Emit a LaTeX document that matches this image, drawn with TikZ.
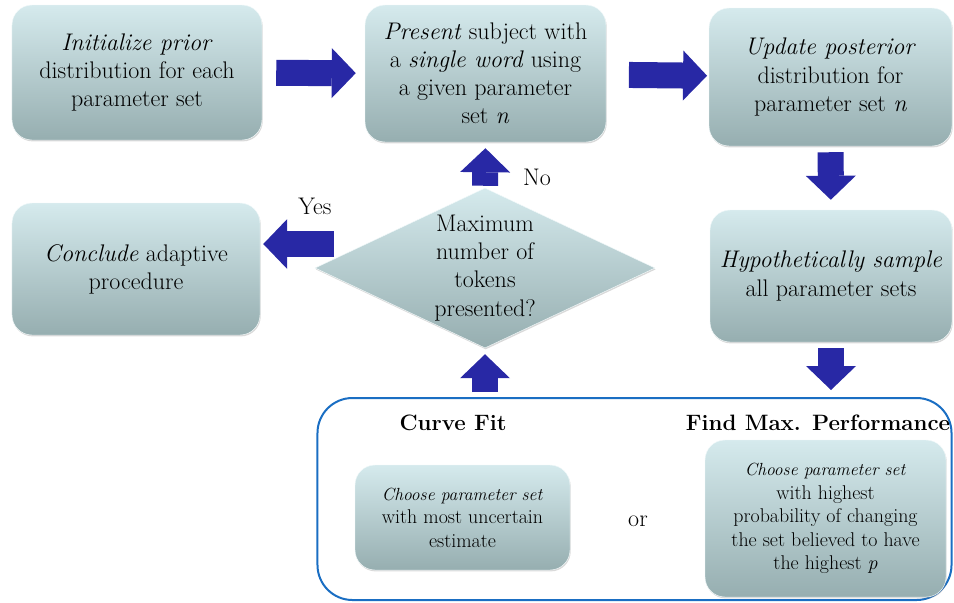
\documentclass[tikz,border=0pt]{standalone}
\usetikzlibrary{shapes.geometric,arrows.meta,shadows}
\definecolor{boxtop}{RGB}{213,234,237}
\definecolor{boxmid}{RGB}{196,219,222}
\definecolor{boxbot}{RGB}{150,174,176}
\definecolor{arrowblue}{RGB}{40,40,165}
\definecolor{frameblue}{RGB}{26,110,195}
\begin{document}
\begin{tikzpicture}[x=0.03cm, y=-0.03cm, every node/.style={font=\fontsize{20.5}{24}\selectfont},
    stage node/.style={rounded corners=0.6cm, draw=white!70!boxtop, top color=boxtop, middle color=boxmid, bottom color=boxbot, align=center, drop shadow={shadow xshift=0.6pt, shadow yshift=-1.2pt, opacity=0.3}},
    small node/.style={stage node, font=\fontsize{17}{20}\selectfont},
    decision/.style={diamond, draw=white!70!boxtop, top color=boxtop, middle color=boxmid, bottom color=boxbot, inner sep=0pt, minimum width=10.2cm, minimum height=4.8cm, drop shadow={shadow xshift=0.6pt, shadow yshift=-1.2pt, opacity=0.3}},
    block arrow/.style={draw=arrowblue, line width=0.78cm, -{Triangle[width=1.5cm,length=0.72cm,line width=0pt]}},
    title/.style={font=\fontsize{19}{22}\selectfont\bfseries}]
    \useasboundingbox (0,0) rectangle (954,602);

    \node[stage node, minimum width=7.5cm, minimum height=4.05cm] at (137,72.5) (init) {\textit{Initialize prior}\\distribution for each\\parameter set};
    \node[stage node, minimum width=7.23cm, minimum height=4.11cm] at (485.5,73.5) (present) {\textit{Present} subject with\\a \textit{single word} using\\a given parameter\\set \textit{n}};
    \node[stage node, minimum width=7.29cm, minimum height=4.14cm] at (830.5,77) (update) {\textit{Update posterior}\\distribution for\\parameter set \textit{n}};
    \node[stage node, minimum width=7.26cm, minimum height=3.96cm] at (831,276) (sample) {\textit{Hypothetically sample}\\all parameter sets};
    \node[stage node, minimum width=7.44cm, minimum height=3.96cm] at (136,269) (conclude) {\textit{Conclude} adaptive\\procedure};
    \node[decision, label={[align=center]center:{Maximum\\number of\\tokens\\presented?}}] at (485,268) (dec) {};

    \node[draw=frameblue, line width=0.06cm, rounded corners=1.05cm, minimum width=19.02cm, minimum height=6.06cm] at (634.5,499) (opts) {};
    \node[title] at (453,423) (fit) {Curve Fit};
    \node[title] at (818,423) (maxperf) {Find Max. Performance};
    \node[small node, minimum width=6.45cm, minimum height=3.15cm] at (462.5,517.5) (uncertain) {{\fontsize{15}{20}\selectfont\textit{Choose parameter set}}\\with most uncertain\\estimate};
    \node[small node, minimum width=7.23cm, minimum height=4.71cm] at (825.5,518.5) (changing) {{\fontsize{15}{20}\selectfont\textit{Choose parameter set}}\\with highest\\probability of changing\\the set believed to have\\the highest \textit{p}};
    \node at (638,521) (or) {or};

    \node at (315,206) (yes) {Yes};
    \node at (537,177) (no) {No};
    \coordinate (yesstart) at (334,244);

    \draw[block arrow, shorten <=0.42cm, shorten >=0.27cm] (init) -- (present);
    \draw[block arrow, shorten <=0.68cm, shorten >=0.05cm] (present) -- (update);
    \draw[block arrow, shorten <=0.18cm, shorten >=0.3cm] (update) -- (sample);
    \draw[block arrow, shorten <=0.18cm, shorten >=0.21cm] (sample.south) -- (sample.south |- opts.north);
    \draw[block arrow, shorten <=0.15cm, shorten >=0.18cm] (dec.south |- opts.north) -- (dec.south);
    \draw[block arrow, shorten <=0.06cm, shorten >=0.18cm] (dec.north) -- (present.south);
    \draw[block arrow, shorten >=0.09cm] (yesstart) -- (yesstart -| conclude.east);
\end{tikzpicture}
\end{document}
